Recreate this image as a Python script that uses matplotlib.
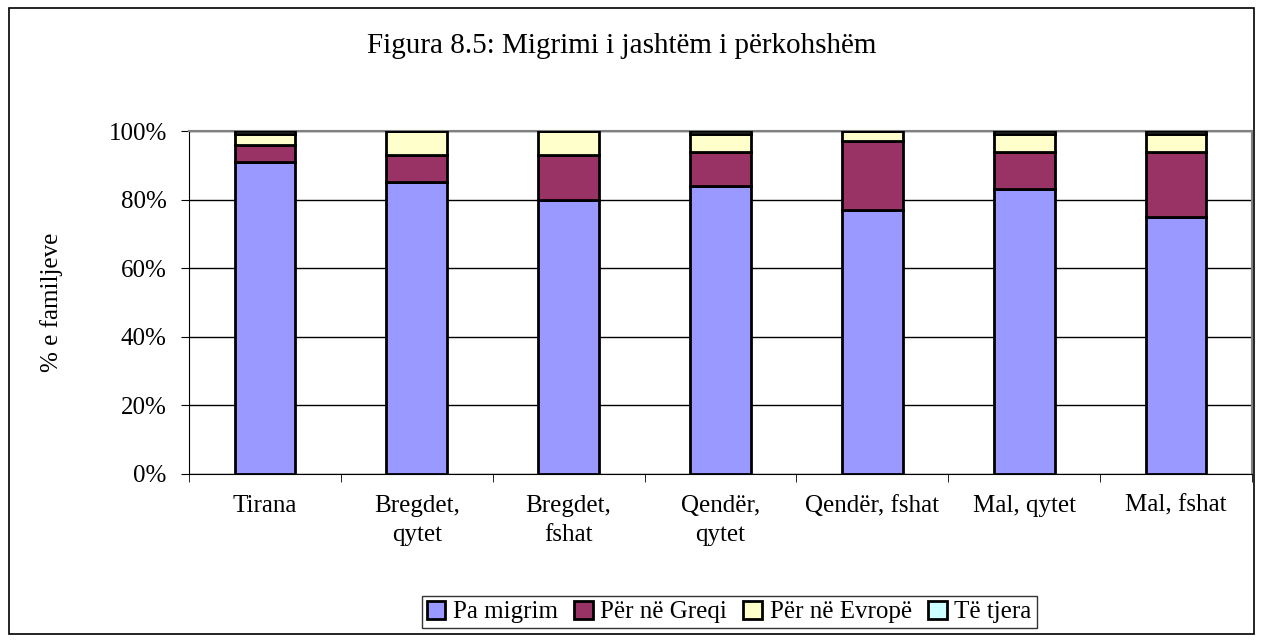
import matplotlib
matplotlib.use("Agg")
from matplotlib import pyplot as plt
from matplotlib.patches import Rectangle
import numpy as np

plt.rcParams['font.family'] = ['Liberation Serif', 'DejaVu Serif']

categories = ["Tirana", "Bregdet,\nqytet", "Bregdet,\nfshat", "Qendër,\nqytet",
              "Qendër, fshat", "Mal, qytet", "Mal, fshat"]
pa_migrim = [91, 85, 80, 84, 77, 83, 75]
greqi = [5, 8, 13, 10, 20, 11, 19]
evrope = [3, 7, 7, 5, 3, 5, 5]
te_tjera = [1, 0, 0, 1, 0, 1, 1]

series = [pa_migrim, greqi, evrope, te_tjera]
names = ["Pa migrim", "Për në Greqi", "Për në Evropë", "Të tjera"]
colors = ["#9999ff", "#993366", "#ffffcc", "#ccffff"]

fig = plt.figure(figsize=(12.63, 6.40), dpi=100)
# outer frame around the whole chart
fig.patches.append(Rectangle((9/1263, 1 - 634/640), 1245/1263, 626/640,
                             transform=fig.transFigure, fill=False,
                             edgecolor="black", linewidth=1.2))

ax = fig.add_axes([189/1263, 1 - 474/640, 1063/1263, 343/640])
x = np.arange(len(categories))
bottom = np.zeros(len(categories))
bars = []
for vals, name, c in zip(series, names, colors):
    b = ax.bar(x, vals, width=0.4, bottom=bottom, color=c, edgecolor="black",
               linewidth=2, label=name, zorder=3)
    bars.append(b)
    bottom += np.array(vals)

ax.set_xlim(-0.5, len(categories) - 0.5)
ax.set_ylim(0, 100)
ax.set_yticks(range(0, 101, 20))
ax.set_yticklabels([f"{v}%" for v in range(0, 101, 20)], fontsize=18)
ax.yaxis.grid(True, color="black", linewidth=1, zorder=0)
ax.set_xticks(x)
ax.set_xticklabels(categories, fontsize=18, linespacing=1.45)
ax.set_xticks(np.arange(-0.5, len(categories)), minor=True)
ax.tick_params(axis="x", which="major", length=0, pad=15)
ax.tick_params(axis="x", which="minor", length=6, direction="out")
ax.tick_params(axis="y", length=6, direction="out", pad=10)
for s in ["top", "right"]:
    ax.spines[s].set_color("#808080")
    ax.spines[s].set_linewidth(1.5)
ax.spines["left"].set_color("black")
ax.spines["bottom"].set_color("black")
ax.set_ylabel("% e familjeve", fontsize=18)
ax.yaxis.set_label_coords((63 - 189) / 1063, 0.5)

fig.text(622/1263, 1 - 53/640, "Figura 8.5: Migrimi i jashtëm i përkohshëm",
         ha="center", va="baseline", fontsize=21)

leg = fig.legend(handles=bars, labels=names, loc="center",
                 bbox_to_anchor=(729/1263, 1 - 612/640), ncol=4,
                 prop={"family": ["Liberation Serif", "DejaVu Serif"], "size": 18},
                 frameon=True, fancybox=False, edgecolor="black",
                 handlelength=0.75, handleheight=0.75, handletextpad=0.3,
                 columnspacing=0.65, borderpad=0.2)
leg.get_frame().set_linewidth(1)

fig.savefig("out.png", dpi=100)
